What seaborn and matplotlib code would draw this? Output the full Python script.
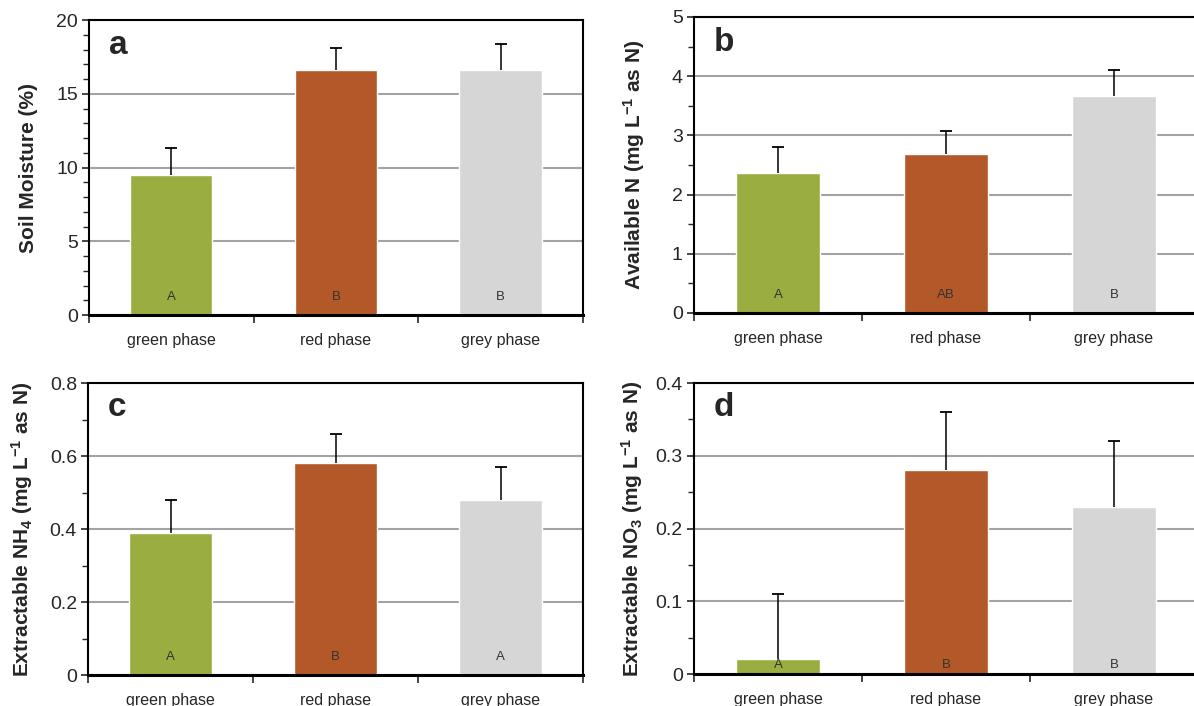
import pandas as pd
import matplotlib
matplotlib.use("Agg")
import matplotlib.pyplot as plt
import seaborn as sns
from matplotlib.ticker import MultipleLocator, FuncFormatter, FixedLocator

# data
phases = ["green phase", "red phase", "grey phase"]
moisture = [9.5, 16.6, 16.6]
moisture_err = [1.8, 1.5, 1.8]
avail_n = [2.37, 2.69, 3.67]
avail_n_err = [0.43, 0.39, 0.43]
nh4 = [0.39, 0.58, 0.48]
nh4_err = [0.09, 0.08, 0.09]
no3 = [0.02, 0.28, 0.23]
no3_err = [0.09, 0.08, 0.09]
letters_a = ["A", "B", "B"]
letters_b = ["A", "AB", "B"]
letters_c = ["A", "B", "A"]
letters_d = ["A", "B", "B"]

colors = ["#99ad40", "#b35829", "#d6d6d6"]

sns.set_style("ticks")
plt.rcParams['font.family'] = ['Liberation Sans', 'DejaVu Sans']
plt.rcParams['mathtext.fontset'] = 'custom'
plt.rcParams['mathtext.rm'] = 'Liberation Sans:bold'
plt.rcParams['mathtext.default'] = 'rm'

fig = plt.figure(figsize=(11.94, 7.06), dpi=100)

panels = [
    # position, values, errors, letters, panel tag, ylabel, ymax, major, minor, label x, letter y
    ([0.0745, 0.5538, 0.4137, 0.4178], moisture, moisture_err, letters_a, "a",
     "Soil Moisture (%)", 20, 5, 1, -0.123, 0.062),
    ([0.5812, 0.5567, 0.4221, 0.4193], avail_n, avail_n_err, letters_b, "b",
     r"Available N (mg L$^{-1}$ as N)", 5, 1, 0.5, -0.119, 0.062),
    ([0.0737, 0.0439, 0.4146, 0.4136], nh4, nh4_err, letters_c, "c",
     r"Extractable NH$_4$ (mg L$^{-1}$ as N)", 0.8, 0.2, 0.1, -0.133, 0.062),
    ([0.5812, 0.0453, 0.4221, 0.4122], no3, no3_err, letters_d, "d",
     r"Extractable NO$_3$ (mg L$^{-1}$ as N)", 0.4, 0.1, 0.05, -0.123, 0.03),
]

for pos, vals, errs, lets, tag, ylab, ymax, major, minor, labx, lety in panels:
    ax = fig.add_axes(pos)
    df = pd.DataFrame({"phase": phases, "value": vals})
    sns.barplot(data=df, x="phase", y="value", hue="phase", palette=colors,
                width=0.5, legend=False, ax=ax, saturation=1)

    # one-sided error bars, cap only at the top
    tops = [v + e for v, e in zip(vals, errs)]
    ax.vlines(range(3), vals, tops, color="black", lw=1.1, zorder=3)
    ax.plot(range(3), tops, ls="none", marker="_", ms=9, mew=1.3,
            color="black", zorder=3)

    for i, l in enumerate(lets):
        ax.text(i, ymax * lety, l, ha="center", va="center",
                fontsize=9.5, color="#333333", zorder=4)

    ax.set_xlim(-0.5, 2.5)
    ax.set_ylim(0, ymax)
    ax.yaxis.set_major_locator(MultipleLocator(major))
    ax.yaxis.set_minor_locator(MultipleLocator(minor))
    ax.yaxis.set_major_formatter(FuncFormatter(lambda v, p: "%g" % round(v, 3)))
    ax.xaxis.set_minor_locator(FixedLocator([-0.5, 0.5, 1.5, 2.5]))
    ax.tick_params(axis="x", which="major", length=0, labelsize=11.5, pad=13)
    ax.tick_params(axis="x", which="minor", length=6, width=1.2, direction="out")
    ax.tick_params(axis="y", which="major", length=5, width=1.2, labelsize=14, pad=3)
    ax.tick_params(axis="y", which="minor", length=4, width=1.0)

    ax.yaxis.grid(True, which="major", color="#a3a3a3", lw=1.5)
    ax.set_axisbelow(True)
    for s in ["top", "right", "left"]:
        ax.spines[s].set_visible(True)
        ax.spines[s].set_linewidth(1.5)
        ax.spines[s].set_color("black")
    ax.spines["bottom"].set_linewidth(2.2)
    ax.spines["bottom"].set_color("black")

    ax.set_xlabel("")
    ax.set_ylabel(ylab, fontsize=15, fontweight="bold", va="center")
    ax.yaxis.set_label_coords(labx, 0.5)
    ax.text(0.04, 0.915, tag, transform=ax.transAxes, fontsize=24,
            fontweight="bold", ha="left", va="center")

fig.savefig("out.png", dpi=100)
